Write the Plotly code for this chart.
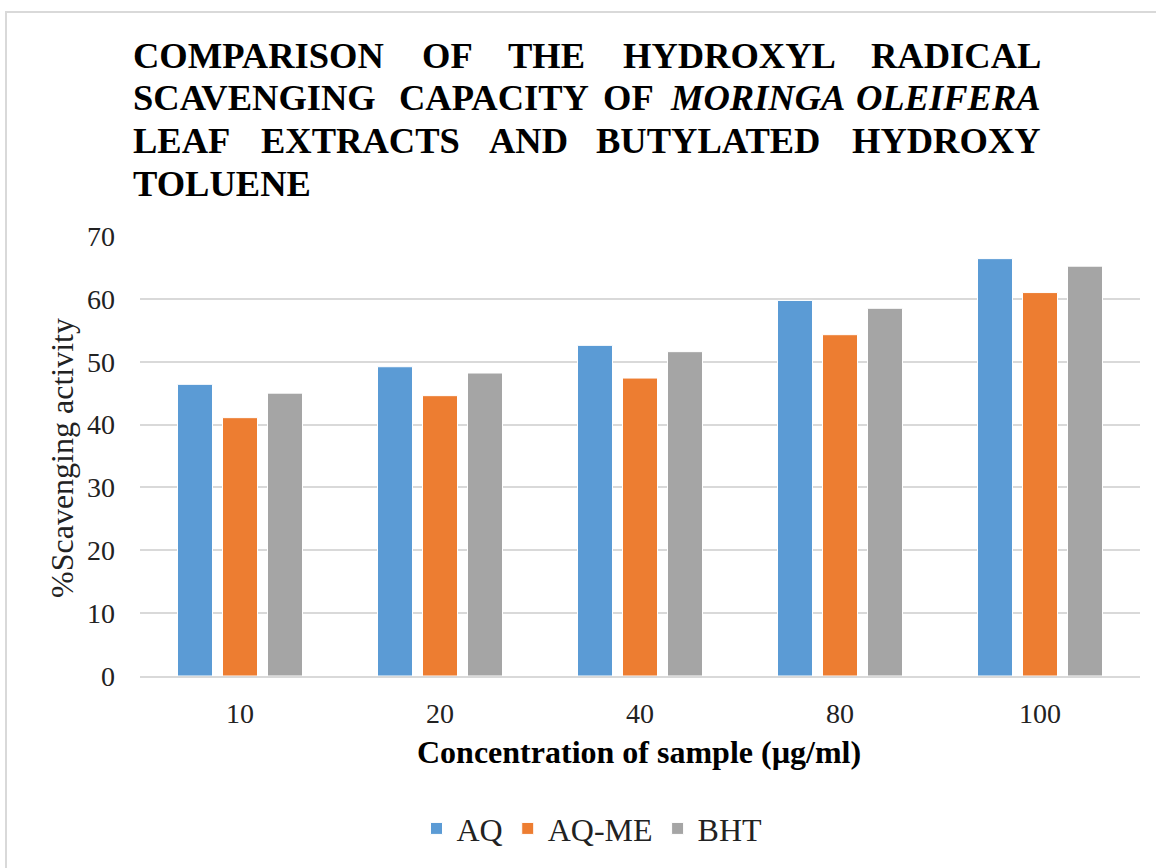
import plotly.graph_objects as go

# Hydroxyl radical scavenging (%) by sample concentration
concentrations = ["10", "20", "40", "80", "100"]
aq = [46.4, 49.2, 52.6, 59.75, 66.4]
aq_me = [41.1, 44.6, 47.4, 54.3, 61.0]
bht = [45.0, 48.2, 51.6, 58.5, 65.2]

series_names = ["AQ", "AQ-ME", "BHT"]
series_colors = ["#5B9BD5", "#ED7D31", "#A5A5A5"]

y_ticks = [0, 10, 20, 30, 40, 50, 60, 70]

# Page geometry (pixels)
W, H = 1156, 868
ML, MR, MT, MB = 140, 16, 236, 188
PW, PH = W - ML - MR, H - MT - MB


def px_x(px):
    return (px - ML) / PW


def px_y(py):
    return (H - MB - py) / PH


FONT = "Liberation Serif"

fig = go.Figure()
for name, vals, col in zip(series_names, [aq, aq_me, bht], series_colors):
    fig.add_trace(go.Bar(
        x=concentrations, y=vals, name=name,
        marker=dict(color=col, line=dict(color="white", width=1)),
    ))

# Title words laid out as justified lines
title_lines = [
    (54.2, [("COMPARISON", 131, "left"), ("OF", 447.5, "center"), ("THE", 546, "center"),
            ("HYDROXYL", 729, "center"), ("RADICAL", 1043, "right")]),
    (95.8, [("SCAVENGING", 131, "left"), ("CAPACITY", 493.5, "center"), ("OF", 628, "center"),
            ("<i>MORINGA</i>", 757, "center"), ("<i>OLEIFERA</i>", 1043, "right")]),
    (140.0, [("LEAF", 131, "left"), ("EXTRACTS", 360.5, "center"), ("AND", 528, "center"),
             ("BUTYLATED", 708, "center"), ("HYDROXY", 1043, "right")]),
    (183.3, [("TOLUENE", 131, "left")]),
]
annotations = []
for ypx, words in title_lines:
    for text, xpx, anchor in words:
        annotations.append(dict(
            text=f"<b>{text}</b>", xref="paper", yref="paper",
            x=px_x(xpx), y=px_y(ypx), xanchor=anchor, yanchor="middle",
            showarrow=False, font=dict(family=FONT, size=36.5, color="black"),
        ))

# Axis titles
annotations.append(dict(
    text="<b>Concentration of sample (µg/ml)</b>", xref="paper", yref="paper",
    x=px_x(639), y=px_y(757), xanchor="center", yanchor="middle", showarrow=False,
    font=dict(family=FONT, size=32, color="black"),
))
annotations.append(dict(
    text="%Scavenging activity", xref="paper", yref="paper", textangle=-90,
    x=px_x(62), y=px_y(460), xanchor="center", yanchor="middle", showarrow=False,
    font=dict(family=FONT, size=32, color="#222222"),
))

# Outer chart frame
shapes = [dict(
    type="rect", xref="paper", yref="paper",
    x0=px_x(6), x1=px_x(1175), y0=px_y(890), y1=px_y(10),
    line=dict(color="#D9D9D9", width=2), fillcolor="rgba(0,0,0,0)", layer="below",
)]

fig.update_layout(
    width=W, height=H,
    margin=dict(l=ML, r=MR, t=MT, b=MB, pad=0),
    paper_bgcolor="white", plot_bgcolor="white",
    barmode="group", bargap=0.325, bargroupgap=0.222,
    font=dict(family=FONT, color="#222222"),
    showlegend=True,
    legend=dict(
        orientation="h", x=px_x(592), y=px_y(834), xanchor="center", yanchor="middle",
        font=dict(family=FONT, size=32, color="#222222"), itemwidth=30,
        bgcolor="rgba(0,0,0,0)",
    ),
    annotations=annotations,
    shapes=shapes,
)

fig.update_xaxes(
    type="category", showgrid=False, showline=True, linecolor="#D9D9D9", linewidth=2,
    ticks="", tickfont=dict(family=FONT, size=28, color="#222222"),
    ticklabelstandoff=11, zeroline=False,
)
fig.update_yaxes(
    range=[0, 70], tickvals=y_ticks, showgrid=True, gridcolor="#D9D9D9", gridwidth=1.5,
    showline=False, zeroline=False, ticks="",
    tickfont=dict(family=FONT, size=28, color="#222222"), ticklabelstandoff=24,
)

fig.write_html("out.html")
